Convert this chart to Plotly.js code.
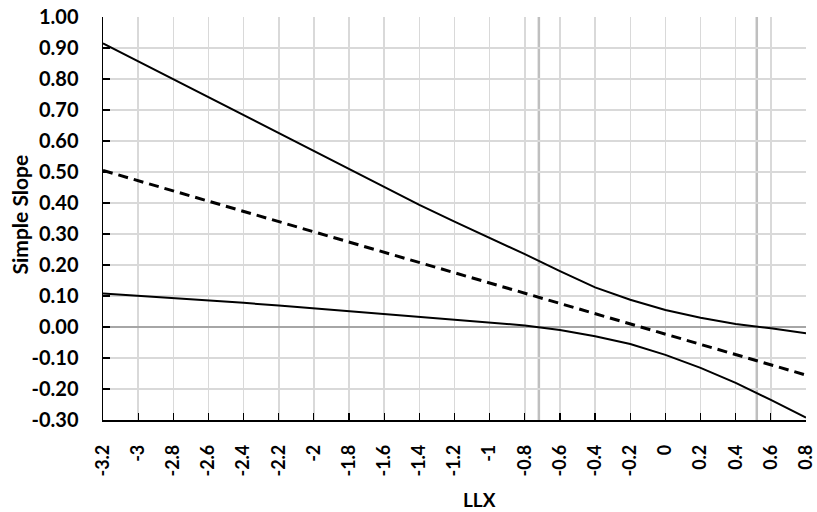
<!DOCTYPE html>
<html>
<head>
<meta charset="utf-8">
<script src="https://cdn.plot.ly/plotly-3.0.1.min.js"></script>
<style>html,body{margin:0;padding:0;background:#fff;}#chart{width:817px;height:512px;}</style>
</head>
<body>
<div id="chart"></div>
<script>
var llx = [-3.2,-3.0,-2.8,-2.6,-2.4,-2.2,-2.0,-1.8,-1.6,-1.4,-1.2,-1.0,-0.8,-0.6,-0.4,-0.2,0.0,0.2,0.4,0.6,0.8];
var upperCI = [0.915,0.857,0.800,0.742,0.683,0.625,0.566,0.508,0.451,0.394,0.340,0.288,0.235,0.180,0.128,0.088,0.055,0.030,0.010,-0.004,-0.020];
var slope = [0.505,0.472,0.439,0.406,0.373,0.340,0.307,0.274,0.241,0.208,0.175,0.142,0.109,0.076,0.043,0.010,-0.023,-0.056,-0.089,-0.122,-0.155];
var lowerCI = [0.108,0.101,0.094,0.087,0.078,0.069,0.060,0.050,0.042,0.034,0.025,0.015,0.005,-0.010,-0.030,-0.055,-0.090,-0.132,-0.180,-0.235,-0.292];
var jnPoints = [-0.72, 0.52];
var xTickVals = [-3.2,-3,-2.8,-2.6,-2.4,-2.2,-2,-1.8,-1.6,-1.4,-1.2,-1,-0.8,-0.6,-0.4,-0.2,0,0.2,0.4,0.6,0.8];
var xTickText = ["-3.2","-3","-2.8","-2.6","-2.4","-2.2","-2","-1.8","-1.6","-1.4","-1.2","-1","-0.8","-0.6","-0.4","-0.2","0","0.2","0.4","0.6","0.8"];
var yTickVals = [-0.3,-0.2,-0.1,0,0.1,0.2,0.3,0.4,0.5,0.6,0.7,0.8,0.9,1.0];
var yTickText = ["-0.30","-0.20","-0.10","0.00","0.10","0.20","0.30","0.40","0.50","0.60","0.70","0.80","0.90","1.00"];
var xTitle = 'LLX';
var yTitle = 'Simple Slope';

var FONT = "Lato, 'Open Sans', sans-serif";
var traces = [
  {x: llx, y: upperCI, mode: 'lines', line: {color: '#000', width: 2}, hoverinfo: 'skip'},
  {x: llx, y: slope, mode: 'lines', line: {color: '#000', width: 3, dash: '10px,6px'}, hoverinfo: 'skip'},
  {x: llx, y: lowerCI, mode: 'lines', line: {color: '#000', width: 2}, hoverinfo: 'skip'}
];
var shapes = jnPoints.map(function (v) {
  return {type: 'line', xref: 'x', yref: 'paper', x0: v, x1: v, y0: 0, y1: 1,
          line: {color: '#bfbfbf', width: 2.5}, layer: 'below'};
});
var layout = {
  width: 817, height: 512,
  margin: {l: 103, r: 11, t: 17, b: 92},
  paper_bgcolor: '#fff', plot_bgcolor: '#fff',
  showlegend: false,
  font: {family: FONT, color: '#000', size: 17},
  shapes: shapes,
  annotations: [
    {text: xTitle, xref: 'paper', yref: 'paper', x: 0.535, y: -0.198, xanchor: 'center', yanchor: 'middle',
     showarrow: false, font: {family: FONT, size: 19, color: '#000', weight: 'bold'}},
    {text: yTitle, xref: 'paper', yref: 'paper', x: -0.1195, y: 0.51, xanchor: 'center', yanchor: 'middle',
     textangle: -90, showarrow: false, font: {family: FONT, size: 21, color: '#000', weight: 'bold'}}
  ],
  xaxis: {
    range: [-3.2, 0.8], tickvals: xTickVals, ticktext: xTickText, tickangle: -90,
    showgrid: true, gridcolor: '#d9d9d9', gridwidth: 1.5,
    zeroline: false, showline: true, linecolor: '#000', linewidth: 1.5,
    ticks: 'inside', ticklen: 7, tickcolor: '#000', tickwidth: 1.2,
    ticklabelstandoff: 16,
    tickfont: {family: FONT, size: 18, color: '#000', weight: 'bold'}
  },
  yaxis: {
    range: [-0.3, 1.0], tickvals: yTickVals, ticktext: yTickText,
    showgrid: true, gridcolor: '#d9d9d9', gridwidth: 1.5,
    zeroline: true, zerolinecolor: '#a6a6a6', zerolinewidth: 2,
    showline: true, linecolor: '#000', linewidth: 1.5,
    ticks: 'inside', ticklen: 7, tickcolor: '#000', tickwidth: 1.2,
    ticklabelstandoff: 19,
    tickfont: {family: FONT, size: 20, color: '#000', weight: 'bold'}
  }
};
Plotly.newPlot('chart', traces, layout, {staticPlot: true, displayModeBar: false});
</script>
</body>
</html>
